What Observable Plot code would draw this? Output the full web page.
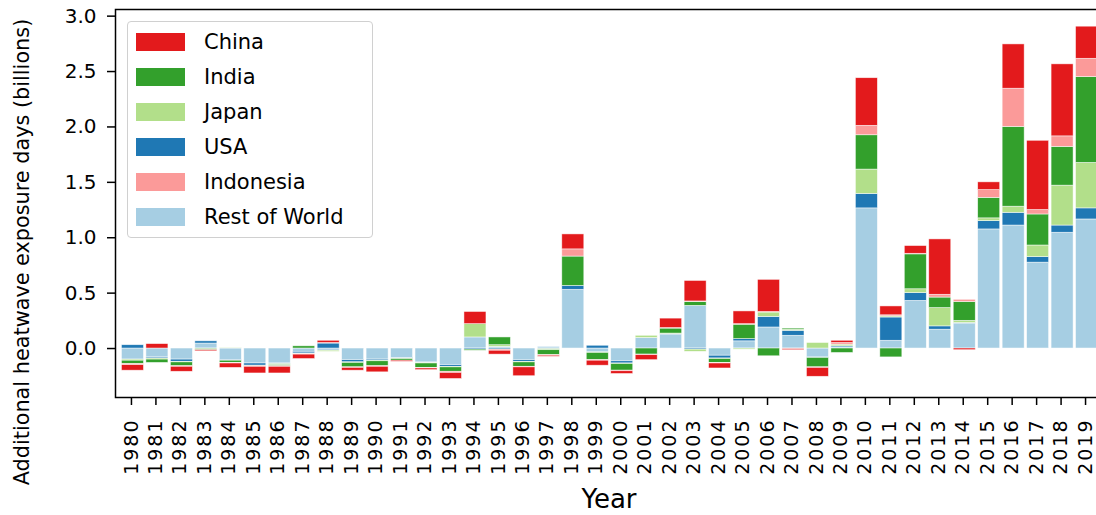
<!DOCTYPE html>
<html>
<head>
<meta charset="utf-8">
<script src="https://cdn.jsdelivr.net/npm/d3@7"></script>
<script src="https://cdn.jsdelivr.net/npm/@observablehq/plot@0.6"></script>
<style>
  html, body { margin: 0; padding: 0; background: #fff; }
  #wrap { position: relative; width: 1096px; height: 515px; overflow: hidden; font-family: "DejaVu Sans", sans-serif; color: #000; }
  #wrap svg { position: absolute; left: 0; top: 0; }
  #wrap svg g[aria-label="x-axis tick label"] text { letter-spacing: 2px; }
  .ylab { position: absolute; left: 22px; top: 252px; transform: translate(-50%, -50%) rotate(-90deg); white-space: nowrap; font-size: 20.8px; }
  .xlab { position: absolute; left: 609px; top: 484px; transform: translateX(-50%); font-size: 26px; white-space: nowrap; }
  .legend { position: absolute; left: 127px; top: 21px; width: 246px; height: 217px; border: 1px solid #d0d0d0; border-radius: 4px; background: rgba(255,255,255,0.85); box-sizing: border-box; }
  .item { position: absolute; left: 8px; height: 18px; }
  .sw { position: absolute; left: 0; top: 0; width: 49px; height: 18px; }
  .lt { position: absolute; left: 68px; top: -5px; font-size: 21px; white-space: nowrap; line-height: 28px; }
</style>
</head>
<body>
<div id="wrap"></div>
<script>
const years = d3.range(1980, 2020).map(String);
const countries = ["China", "India", "Japan", "USA", "Indonesia", "Rest of World"];
const stackOrder = ["Rest of World", "USA", "Japan", "India", "Indonesia", "China"];
const colors = ["#e31a1c", "#33a02c", "#b2df8a", "#1f78b4", "#fb9a99", "#a6cee3"];
const yTicks = [0, 0.5, 1.0, 1.5, 2.0, 2.5, 3.0];

const restOfWorld = [-0.10,-0.08,-0.10,0.045,-0.105,-0.135,-0.135,-0.03,-0.02,-0.105,
  -0.10,-0.085,-0.125,-0.15,0.10,0.015,-0.105,0.015,0.53,-0.035,
  -0.115,0.095,0.125,0.385,-0.065,0.065,0.19,0.115,-0.08,0.01,
  1.265,0.07,0.43,0.17,0.225,1.075,1.11,0.775,1.045,1.165];
const usa = [0.03,-0.01,-0.02,0.02,-0.005,-0.02,-0.005,-0.015,0.045,-0.02,
  -0.01,-0.005,-0.005,-0.015,-0.01,-0.01,-0.015,-0.005,0.035,0.025,
  -0.02,0,0.005,-0.01,-0.025,0.02,0.095,0.045,-0.005,0.01,
  0.13,0.21,0.07,0.03,0.005,0.075,0.115,0.05,0.065,0.10];
const japan = [-0.01,-0.01,-0.005,-0.005,0.005,0,-0.01,-0.005,-0.01,-0.005,
  -0.005,-0.005,-0.005,-0.005,0.12,0.015,-0.005,-0.01,0,-0.005,
  -0.005,0.02,0.005,-0.02,-0.005,-0.01,0.04,0.01,0.05,0.015,
  0.22,0.01,0.035,0.165,0.02,0.025,0.055,0.105,0.36,0.41];
const india = [-0.03,-0.03,-0.035,-0.01,-0.02,-0.005,-0.01,0.02,0,-0.04,
  -0.045,-0.015,-0.04,-0.04,-0.01,0.07,-0.04,-0.045,0.265,-0.065,
  -0.06,-0.055,0.045,0.035,-0.035,0.13,-0.07,0.01,-0.085,-0.04,
  0.31,-0.08,0.315,0.095,0.17,0.185,0.72,0.28,0.35,0.775];
const indonesia = [-0.01,0,-0.005,0,-0.005,-0.005,-0.005,-0.005,0.005,-0.005,
  -0.005,0,-0.005,-0.01,0,-0.01,-0.005,-0.005,0.065,-0.005,
  -0.005,-0.005,0.005,0.005,-0.005,0.005,0.005,-0.005,-0.005,0.015,
  0.085,0.01,0.005,0.025,0.02,0.07,0.345,0.04,0.095,0.165];
const china = [-0.05,0.04,-0.045,-0.01,-0.04,-0.06,-0.06,-0.04,0.02,-0.025,
  -0.05,-0.01,-0.015,-0.055,0.11,-0.035,-0.08,-0.01,0.135,-0.045,
  -0.025,-0.045,0.085,0.185,-0.045,0.115,0.29,-0.01,-0.08,0.02,
  0.43,0.08,0.07,0.5,-0.015,0.07,0.4,0.625,0.65,0.29];

const series = {"China": china, "India": india, "Japan": japan, "USA": usa, "Indonesia": indonesia, "Rest of World": restOfWorld};
const data = [];
for (const c of stackOrder) {
  years.forEach((y, i) => data.push({year: y, country: c, value: series[c][i]}));
}

const chart = Plot.plot({
  width: 1096,
  height: 515,
  marginLeft: 115,
  marginRight: -8.5,
  marginTop: 9,
  marginBottom: 118,
  style: {fontFamily: "DejaVu Sans, sans-serif", fontSize: "20px", color: "#000", background: "white"},
  x: {type: "band", domain: years, padding: 0.1, round: false, range: [119, 1100], label: null},
  y: {domain: [-0.442, 3.06], label: null},
  color: {domain: countries, range: colors},
  marks: [
    Plot.barY(data, Plot.stackY({
      x: "year", y: "value", z: "country", fill: "country",
      order: stackOrder,
      stroke: "white", strokeWidth: 0.7, strokeOpacity: 0.7
    })),
    Plot.axisY({ticks: yTicks, tickFormat: d => d.toFixed(1), tickSize: 8, tickPadding: 11, fontSize: 20, strokeWidth: 1.5, label: null}),
    Plot.axisX({tickRotate: -90, tickSize: 8, tickPadding: 13, fontSize: 19, dx: -1.5, strokeWidth: 1.5, label: null}),
    Plot.frame({stroke: "black", strokeWidth: 1.5})
  ]
});

const wrap = document.getElementById("wrap");
wrap.appendChild(chart);

const yl = document.createElement("div");
yl.className = "ylab";
yl.textContent = "Additional heatwave exposure days (billions)";
wrap.appendChild(yl);

const xl = document.createElement("div");
xl.className = "xlab";
xl.textContent = "Year";
wrap.appendChild(xl);

const lg = document.createElement("div");
lg.className = "legend";
countries.forEach((c, i) => {
  const it = document.createElement("div");
  it.className = "item";
  it.style.top = (10.5 + i * 35) + "px";
  const sw = document.createElement("div");
  sw.className = "sw";
  sw.style.background = colors[i];
  const t = document.createElement("div");
  t.className = "lt";
  t.textContent = c;
  it.appendChild(sw);
  it.appendChild(t);
  lg.appendChild(it);
});
wrap.appendChild(lg);
</script>
</body>
</html>
